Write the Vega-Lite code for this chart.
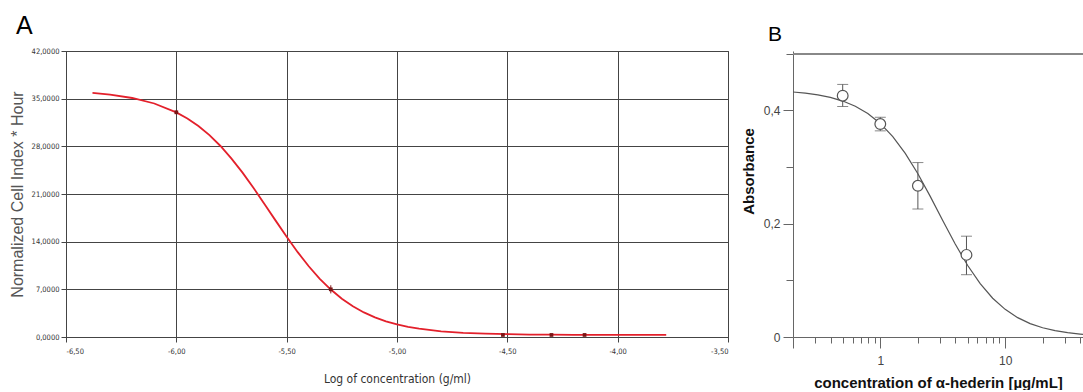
{
  "$schema": "https://vega.github.io/schema/vega-lite/v6.json",
  "background": "white",
  "padding": {"left": 8, "top": 13, "right": 0, "bottom": 0},
  "bounds": "flush",
  "spacing": 65,
  "config": {"font": "Liberation Sans"},
  "datasets": {
    "curveA": [
      {"logc": -6.38, "v": 35.84}, {"logc": -6.3, "v": 35.59}, {"logc": -6.2, "v": 35.10}, {"logc": -6.1, "v": 34.29},
      {"logc": -6.0, "v": 32.99}, {"logc": -5.95, "v": 32.1}, {"logc": -5.9, "v": 30.98}, {"logc": -5.85, "v": 29.64}, {"logc": -5.8, "v": 28.05},
      {"logc": -5.75, "v": 26.20}, {"logc": -5.7, "v": 24.14}, {"logc": -5.65, "v": 21.89}, {"logc": -5.6, "v": 19.51},
      {"logc": -5.55, "v": 17.09}, {"logc": -5.5, "v": 14.71}, {"logc": -5.45, "v": 12.46}, {"logc": -5.4, "v": 10.39},
      {"logc": -5.35, "v": 8.55}, {"logc": -5.3, "v": 6.97}, {"logc": -5.25, "v": 5.62}, {"logc": -5.2, "v": 4.51},
      {"logc": -5.15, "v": 3.61}, {"logc": -5.1, "v": 2.88}, {"logc": -5.05, "v": 2.31}, {"logc": -5.0, "v": 1.85},
      {"logc": -4.95, "v": 1.50}, {"logc": -4.9, "v": 1.22}, {"logc": -4.8, "v": 0.84}, {"logc": -4.7, "v": 0.62},
      {"logc": -4.6, "v": 0.49}, {"logc": -4.5, "v": 0.41}, {"logc": -4.4, "v": 0.36}, {"logc": -4.3, "v": 0.34},
      {"logc": -4.2, "v": 0.32}, {"logc": -4.1, "v": 0.31}, {"logc": -4.0, "v": 0.31}, {"logc": -3.9, "v": 0.30},
      {"logc": -3.78, "v": 0.30}
    ],
    "pointsA": [
      {"logc": -6.0, "v": 33.0, "lo": 32.7, "hi": 33.3},
      {"logc": -5.3, "v": 7.0, "lo": 6.4, "hi": 7.6},
      {"logc": -4.52, "v": 0.3, "lo": 0.2, "hi": 0.4},
      {"logc": -4.3, "v": 0.3, "lo": 0.2, "hi": 0.4},
      {"logc": -4.15, "v": 0.3, "lo": 0.2, "hi": 0.4}
    ],
    "curveB": [
      {"conc": 0.2, "abs": 0.4326}, {"conc": 0.2512, "abs": 0.4305}, {"conc": 0.3162, "abs": 0.4274},
      {"conc": 0.3981, "abs": 0.4230}, {"conc": 0.5012, "abs": 0.4166}, {"conc": 0.631, "abs": 0.4074},
      {"conc": 0.7943, "abs": 0.3946}, {"conc": 1, "abs": 0.3771}, {"conc": 1.259, "abs": 0.3539},
      {"conc": 1.585, "abs": 0.3243}, {"conc": 1.995, "abs": 0.2886}, {"conc": 2.512, "abs": 0.2483},
      {"conc": 3.162, "abs": 0.2057}, {"conc": 3.981, "abs": 0.1641}, {"conc": 5.012, "abs": 0.1263},
      {"conc": 6.31, "abs": 0.0942}, {"conc": 7.943, "abs": 0.0685}, {"conc": 10, "abs": 0.0488},
      {"conc": 12.59, "abs": 0.0342}, {"conc": 15.85, "abs": 0.0237}, {"conc": 19.95, "abs": 0.0163},
      {"conc": 25.12, "abs": 0.0112}, {"conc": 31.62, "abs": 0.0076}, {"conc": 39.81, "abs": 0.0052},
      {"conc": 42, "abs": 0.0047}
    ],
    "pointsB": [
      {"conc": 0.5, "abs": 0.426, "lo": 0.407, "hi": 0.446},
      {"conc": 1, "abs": 0.376, "lo": 0.364, "hi": 0.388},
      {"conc": 2, "abs": 0.267, "lo": 0.226, "hi": 0.308},
      {"conc": 4.9, "abs": 0.145, "lo": 0.11, "hi": 0.178}
    ]
  },
  "hconcat": [
    {
      "width": 662,
      "height": 286,
      "view": {"stroke": "#444", "strokeWidth": 1},
      "title": {"text": "A", "anchor": "start", "frame": "group", "dx": -50, "offset": 8, "fontSize": 25, "fontWeight": "normal", "font": "Liberation Sans", "color": "#000"},
      "layer": [
        {
          "data": {"name": "curveA"},
          "mark": {"type": "line", "color": "#e3202b", "strokeWidth": 1.8},
          "encoding": {
            "x": {
              "field": "logc", "type": "quantitative",
              "scale": {"domain": [-6.5, -3.5], "nice": false, "zero": false},
              "axis": {
                "title": "Log of concentration (g/ml)",
                "values": [-6.5, -6, -5.5, -5, -4.5, -4, -3.5],
                "labelExpr": "replace(replace(format(datum.value, '.2f'), '.', ','), '\u2212', '-')",
                "grid": true, "gridColor": "#444", "gridOpacity": 1, "gridWidth": 1,
                "domainColor": "#444", "tickColor": "#444", "tickSize": 5,
                "labelFont": "'DejaVu Sans Condensed', 'Liberation Sans'", "labelFontSize": 7.5, "labelColor": "#333", "labelPadding": 5,
                "titleFont": "'DejaVu Sans Condensed', 'Liberation Sans'", "titleFontSize": 12, "titleFontWeight": "normal", "titleColor": "#333", "titlePadding": 19
              }
            },
            "y": {
              "field": "v", "type": "quantitative",
              "scale": {"domain": [0, 42], "nice": false},
              "axis": {
                "title": "Normalized Cell Index * Hour",
                "values": [0, 7, 14, 21, 28, 35, 42],
                "labelExpr": "replace(format(datum.value, '.4f'), '.', ',')",
                "grid": true, "gridColor": "#444", "gridOpacity": 1, "gridWidth": 1,
                "domainColor": "#444", "tickColor": "#444", "tickSize": 5,
                "labelFont": "'DejaVu Sans Condensed', 'Liberation Sans'", "labelFontSize": 7.5, "labelColor": "#333", "labelPadding": 2,
                "titleFont": "Liberation Sans", "titleFontSize": 16, "titleFontWeight": "normal", "titleColor": "#555", "titlePadding": 6
              }
            }
          }
        },
        {
          "data": {"name": "pointsA"},
          "mark": {"type": "rule", "color": "#8b1a1a", "strokeWidth": 1},
          "encoding": {"x": {"field": "logc", "type": "quantitative"}, "y": {"field": "lo", "type": "quantitative"}, "y2": {"field": "hi"}}
        },
        {
          "data": {"name": "pointsA"},
          "mark": {"type": "square", "color": "#7a1515", "size": 14, "opacity": 1},
          "encoding": {"x": {"field": "logc", "type": "quantitative"}, "y": {"field": "v", "type": "quantitative"}}
        }
      ]
    },
    {
      "width": 290,
      "height": 286,
      "view": {"stroke": null},
      "title": {"text": "B", "anchor": "start", "frame": "group", "dx": -25, "offset": 6, "fontSize": 21, "fontWeight": "normal", "font": "Liberation Sans", "color": "#000"},
      "layer": [
        {
          "data": {"name": "curveB"},
          "mark": {"type": "rule", "color": "#888", "strokeWidth": 1.5},
          "encoding": {"y": {"datum": 0.5, "type": "quantitative"}}
        },
        {
          "data": {"name": "curveB"},
          "mark": {"type": "line", "color": "#555", "strokeWidth": 1.2, "clip": true},
          "encoding": {
            "x": {
              "field": "conc", "type": "quantitative",
              "scale": {"type": "log", "domain": [0.2, 42], "nice": false},
              "axis": {
                "title": "concentration  of \u03b1-hederin [\u00b5g/mL]",
                "values": [0.2, 0.3, 0.4, 0.5, 0.6, 0.7, 0.8, 0.9, 1, 2, 3, 4, 5, 6, 7, 8, 9, 10, 20, 30, 40],
                "labelExpr": "datum.value == 1 ? '1' : (datum.value == 10 ? '10' : '')",
                "grid": false,
                "domainColor": "#666", "tickColor": "#666",
                "tickSize": {"condition": {"test": "datum.value == 1 || datum.value == 10 || datum.value == 0.2", "value": 11}, "value": 6},
                "labelFont": "Liberation Sans", "labelFontSize": 12, "labelColor": "#444", "labelPadding": 7,
                "titleFont": "Liberation Sans", "titleFontSize": 15, "titleFontWeight": "bold", "titleColor": "#111", "titlePadding": 9
              }
            },
            "y": {
              "field": "abs", "type": "quantitative",
              "scale": {"domain": [0, 0.505], "nice": false},
              "axis": {
                "title": "Absorbance",
                "values": [0, 0.05, 0.1, 0.15, 0.2, 0.25, 0.3, 0.35, 0.4, 0.45, 0.5],
                "labelExpr": "datum.value == 0 ? '0' : (datum.value == 0.2 ? '0,2' : (datum.value == 0.4 ? '0,4' : ''))",
                "grid": false,
                "domainColor": "#666", "tickColor": "#666",
                "tickSize": {"condition": {"test": "datum.value == 0 || datum.value == 0.2 || datum.value == 0.4", "value": 10}, "value": 7},
                "labelFont": "Liberation Sans", "labelFontSize": 12, "labelColor": "#444", "labelPadding": 3,
                "titleFont": "Liberation Sans", "titleFontSize": 15, "titleFontWeight": "bold", "titleColor": "#111", "titlePadding": 7,
                "titleY": 120
              }
            }
          }
        },
        {
          "data": {"name": "pointsB"},
          "mark": {"type": "rule", "color": "#555", "strokeWidth": 1},
          "encoding": {"x": {"field": "conc", "type": "quantitative"}, "y": {"field": "lo", "type": "quantitative"}, "y2": {"field": "hi"}}
        },
        {
          "data": {"name": "pointsB"},
          "mark": {"type": "tick", "orient": "horizontal", "color": "#555", "size": 11, "thickness": 1},
          "encoding": {"x": {"field": "conc", "type": "quantitative"}, "y": {"field": "lo", "type": "quantitative"}}
        },
        {
          "data": {"name": "pointsB"},
          "mark": {"type": "tick", "orient": "horizontal", "color": "#555", "size": 11, "thickness": 1},
          "encoding": {"x": {"field": "conc", "type": "quantitative"}, "y": {"field": "hi", "type": "quantitative"}}
        },
        {
          "data": {"name": "pointsB"},
          "mark": {"type": "point", "shape": "circle", "filled": true, "fill": "white", "stroke": "#555", "strokeWidth": 1.2, "size": 115, "opacity": 1},
          "encoding": {"x": {"field": "conc", "type": "quantitative"}, "y": {"field": "abs", "type": "quantitative"}}
        }
      ]
    }
  ]
}
